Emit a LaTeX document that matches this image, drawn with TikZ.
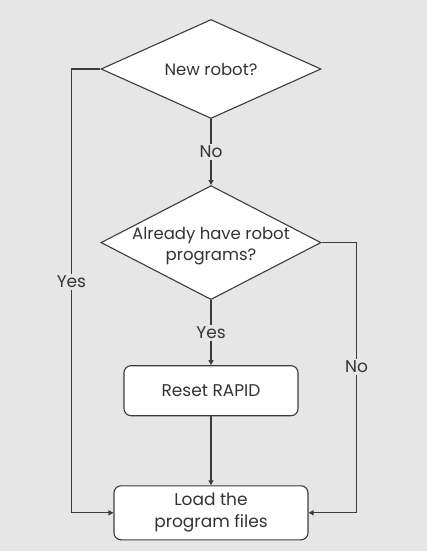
\documentclass[tikz,border=0pt]{standalone}
\usepackage{fontspec}
\setmainfont{Poppins}
\usetikzlibrary{arrows.meta,positioning,shapes.geometric}
\definecolor{bgg}{HTML}{E6E6E6}
\definecolor{linek}{HTML}{3C3C3C}
\definecolor{textk}{HTML}{333333}
\tikzset{
  box/.style={draw=linek, line width=1.1pt, rounded corners=7pt, fill=white, align=center, text=textk, font=\fontsize{17}{22}\selectfont},
  proc/.style={box, minimum width=174pt, minimum height=50pt},
  decision/.style={draw=linek, line width=1.1pt, diamond, fill=white, inner sep=0pt, minimum width=220pt},
  qtext/.style={align=center, text=textk, font=\fontsize{16.5}{21}\selectfont},
  lbl/.style={fill=bgg, text=textk, inner sep=2pt, font=\fontsize{17}{20}\selectfont},
  fl/.style={-{Triangle[length=5pt,width=5pt]}, line width=1.1pt, draw=linek},
}
\begin{document}
\begin{tikzpicture}[x=1pt, y=1pt]
  \fill[bgg] (0,0) rectangle (427,-551);
  \useasboundingbox (0,0) rectangle (427,-551);
  \node[decision, minimum height=99pt, label={[qtext]center:New robot?}] (newq) at (211,-69) {};
  \node[decision, minimum height=114pt, below=66pt of newq, label={[qtext, yshift=-4pt]center:Already have robot\\programs?}] (haveq) {};
  \node[proc, below=65pt of haveq] (reset) {Reset RAPID};
  \node[proc, minimum width=194pt, minimum height=54pt, below=69pt of reset] (load) {Load the\\program files};
  \draw[fl] (newq) -- node[lbl] {No} (haveq);
  \draw[fl] (haveq) -- node[lbl] {Yes} (reset);
  \draw[fl] (reset) -- (load);
  \draw[fl] (newq.west) -- ++(-29,0) |- node[lbl, pos=0.24] {Yes} (load.west);
  \draw[fl] (haveq.east) -- ++(35,0) |- node[lbl, pos=0.23] {No} (load.east);
\end{tikzpicture}
\end{document}
